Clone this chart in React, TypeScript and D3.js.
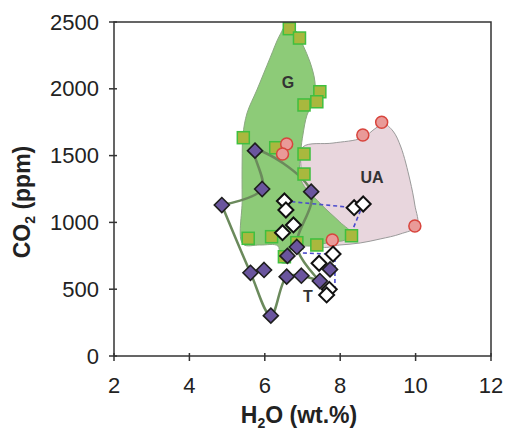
import React from "react";
import * as d3 from "d3";

// H2O (wt.%) , CO2 (ppm)
const greenSquares: [number, number][] = [
  [6.65, 2450], [6.92, 2380], [7.46, 1978], [7.04, 1879], [7.38, 1903],
  [5.43, 1634], [6.29, 1559], [7.04, 1512], [7.04, 1362], [5.56, 881],
  [6.18, 893], [6.85, 848], [7.38, 831], [8.3, 900], [6.52, 743],
];

const redCircles: [number, number][] = [
  [9.1, 1749], [8.6, 1654], [6.58, 1587], [6.47, 1512], [9.98, 973], [7.79, 868],
];

const purpleDiamonds: [number, number][] = [
  [5.74, 1537], [5.93, 1250], [4.86, 1130], [7.23, 1230], [6.85, 816],
  [6.6, 749], [5.62, 623], [5.98, 644], [6.58, 594], [6.97, 601],
  [7.46, 561], [7.73, 648], [6.16, 302],
];

const whiteDiamonds: [number, number][] = [
  [6.52, 1160], [6.56, 1093], [6.76, 981], [6.47, 923], [8.37, 1110],
  [8.61, 1138], [7.81, 763], [7.44, 694], [7.71, 499], [7.64, 457],
];

const regionG: [number, number][] = [
  [6.59, 2478], [6.85, 2425], [7.01, 2328], [7.2, 2200], [7.33, 2051],
  [7.31, 1916], [7.12, 1804], [7.01, 1654], [6.96, 1542], [6.96, 1317],
  [7.46, 1145], [7.99, 1003], [8.31, 913], [8.13, 868], [7.78, 853],
  [7.2, 823], [6.72, 823], [6.67, 704], [6.4, 704], [6.35, 823],
  [5.87, 831], [5.42, 838], [5.4, 1168], [5.4, 1467], [5.42, 1654],
  [5.53, 1819], [5.79, 1991], [6.14, 2231], [6.4, 2403],
];

const regionUA: [number, number][] = [
  [7.01, 1564], [7.81, 1594], [8.58, 1632], [8.95, 1707], [9.16, 1737],
  [9.4, 1684], [9.61, 1564], [9.85, 1317], [9.98, 1130], [10.04, 973],
  [9.59, 913], [9.06, 876], [8.53, 846], [7.99, 831], [7.46, 823],
  [6.96, 1168], [6.96, 1392],
];

// trend lines through the T samples
const trendA: [number, number][] = [
  [4.86, 1130], [5.93, 1250], [5.74, 1537], [7.23, 1230], [6.85, 816], [7.46, 561],
];
const trendB: [number, number][] = [
  [4.86, 1130], [5.62, 623], [6.16, 302], [6.58, 594], [6.97, 601], [7.46, 561],
];

const dashedLines: [number, number][][] = [
  [[6.52, 1160], [8.37, 1110]],
  [[8.61, 1138], [8.25, 890]],
  [[7.01, 771], [7.73, 763]],
  [[7.86, 733], [7.86, 494]],
];

const xTicks = [2, 4, 6, 8, 10, 12];
const yTicks = [0, 500, 1000, 1500, 2000, 2500];

const W = 507;
const H = 433;
const margin = { left: 114, right: 16, top: 22, bottom: 77 };

export default function App() {
  const x = d3.scaleLinear().domain([2, 12]).range([margin.left, W - margin.right]);
  const y = d3.scaleLinear().domain([0, 2500]).range([H - margin.bottom, margin.top]);

  const area = d3
    .line<[number, number]>()
    .x((d) => x(d[0]))
    .y((d) => y(d[1]))
    .curve(d3.curveCatmullRomClosed.alpha(0.5));
  const trend = d3
    .line<[number, number]>()
    .x((d) => x(d[0]))
    .y((d) => y(d[1]))
    .curve(d3.curveCatmullRom.alpha(0.5));
  const straight = d3
    .line<[number, number]>()
    .x((d) => x(d[0]))
    .y((d) => y(d[1]));

  const font = "Liberation Sans, Arial, sans-serif";
  const x0 = margin.left;
  const x1 = W - margin.right;
  const y0 = H - margin.bottom;
  const y1 = margin.top;
  const sq = 12;
  const dm = 7.5;

  return (
    <svg
      width={W}
      height={H}
      style={{ position: "absolute", left: 0, top: 0, background: "#fff" }}
      fontFamily={font}
    >
      <path d={area(regionUA) || ""} fill="#e8d6dd" stroke="#9a9a9a" strokeWidth={1} />
      <path d={area(regionG) || ""} fill="#8dcb78" stroke="#8aa880" strokeWidth={1} />

      <path d={trend(trendA) || ""} fill="none" stroke="#6b8a5c" strokeWidth={2.5} />
      <path d={trend(trendB) || ""} fill="none" stroke="#6b8a5c" strokeWidth={2.5} />
      {dashedLines.map((l, i) => (
        <path
          key={i}
          d={straight(l) || ""}
          fill="none"
          stroke="#4c4ccc"
          strokeWidth={1.6}
          strokeDasharray="4,3"
        />
      ))}

      {greenSquares.map((d, i) => (
        <rect
          key={i}
          x={x(d[0]) - sq / 2}
          y={y(d[1]) - sq / 2}
          width={sq}
          height={sq}
          fill="#a9b83e"
          stroke="#3fbf3f"
          strokeWidth={1.5}
        />
      ))}
      {redCircles.map((d, i) => (
        <circle
          key={i}
          cx={x(d[0])}
          cy={y(d[1])}
          r={6}
          fill="#e99a98"
          stroke="#d8453d"
          strokeWidth={1.5}
        />
      ))}
      {purpleDiamonds.map((d, i) => (
        <path
          key={i}
          d={`M${x(d[0])},${y(d[1]) - dm}l${dm},${dm}l${-dm},${dm}l${-dm},${-dm}z`}
          fill="#6a559e"
          stroke="#1e1e1e"
          strokeWidth={1.6}
        />
      ))}
      {whiteDiamonds.map((d, i) => (
        <path
          key={i}
          d={`M${x(d[0])},${y(d[1]) - dm}l${dm},${dm}l${-dm},${dm}l${-dm},${-dm}z`}
          fill="#fff"
          stroke="#111"
          strokeWidth={2}
        />
      ))}

      <text x={288} y={88} fontSize={16} fontWeight="bold" fill="#333" textAnchor="middle">G</text>
      <text x={372} y={183} fontSize={16} fontWeight="bold" fill="#333" textAnchor="middle">UA</text>
      <text x={308} y={302} fontSize={16} fontWeight="bold" fill="#333" textAnchor="middle">T</text>

      {/* frame */}
      <rect x={x0} y={y1} width={x1 - x0} height={y0 - y1} fill="none" stroke="#333" strokeWidth={1.5} />

      {xTicks.map((t) => (
        <g key={t}>
          <line x1={x(t)} x2={x(t)} y1={y0 - 3} y2={y0 + 5} stroke="#333" strokeWidth={1.5} />
          <text x={x(t)} y={393} fontSize={22} fill="#222" textAnchor="middle">{t}</text>
        </g>
      ))}
      {yTicks.map((t) => (
        <g key={t}>
          <line x1={x0 - 5} x2={x0 + 3} y1={y(t)} y2={y(t)} stroke="#333" strokeWidth={1.5} />
          <text x={99} y={y(t) + 7.5} fontSize={22} fill="#222" textAnchor="end">{t}</text>
        </g>
      ))}

      <text x={299} y={423} fontSize={23} fontWeight="bold" fill="#222" textAnchor="middle">
        H<tspan fontSize={14} dy={5}>2</tspan><tspan dy={-5}>O (wt.%)</tspan>
      </text>
      <text
        transform={`translate(30,202) rotate(-90)`}
        fontSize={23}
        fontWeight="bold"
        fill="#222"
        textAnchor="middle"
      >
        CO<tspan fontSize={14} dy={5}>2</tspan><tspan dy={-5}> (ppm)</tspan>
      </text>
    </svg>
  );
}
